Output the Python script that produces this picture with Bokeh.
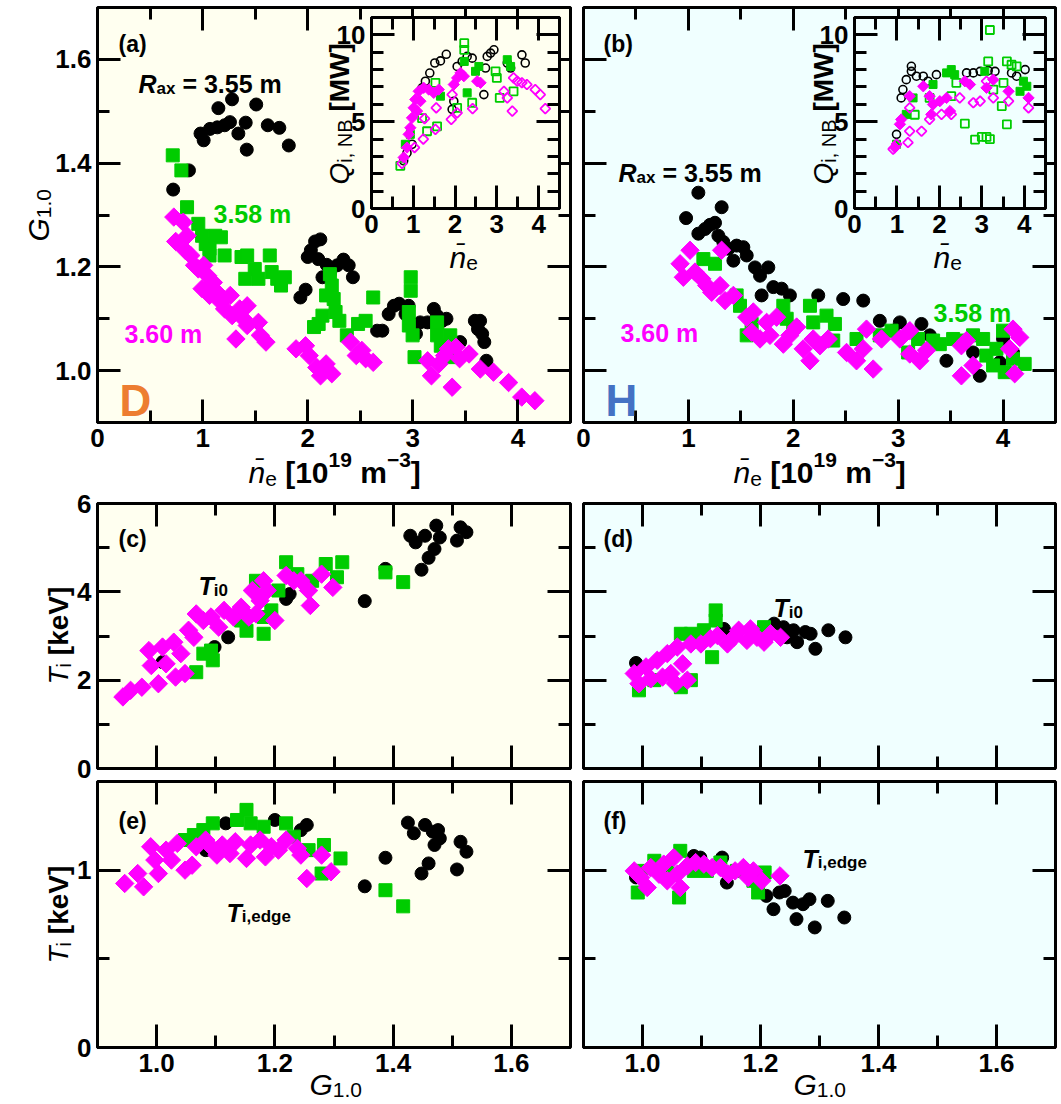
import math
from bokeh.plotting import figure
from bokeh.layouts import column, row
from bokeh.models import Range1d, LinearAxis, SingleIntervalTicker, Label, PrintfTickFormatter
from bokeh.embed import file_html
from bokeh.resources import INLINE

FONT = "Liberation Sans"
BLACK = "#000000"
GREEN = "#00CC00"
MAGENTA = "#FF00FF"
BG_D = "#FFFFF0"
BG_H = "#F0FFFF"

# ---------------- data (x, y) ----------------
# (a) D plasma: G_1.0 vs n_e
A_BLACK = [(0.72,1.349),(0.87,1.386),(0.98,1.457),(1.01,1.444),(1.07,1.466),(1.14,1.469),(1.15,1.506),
           (1.21,1.473),(1.26,1.479),(1.28,1.523),(1.34,1.457),(1.41,1.478),(1.42,1.426),(1.51,1.513),
           (1.62,1.473),(1.73,1.468),(1.82,1.434),
           (1.93,1.141),(1.98,1.156),(2.0,1.219),(2.03,1.232),(2.07,1.249),(2.12,1.253),(2.10,1.215),
           (2.18,1.204),(2.21,1.188),(2.28,1.203),(2.34,1.214),(2.39,1.203),(2.43,1.18),(2.14,1.18),
           (2.66,1.077),(2.71,1.077),(2.77,1.109),(2.82,1.125),(2.87,1.129),(2.93,1.109),(2.96,1.125),
           (3.03,1.071),(3.07,1.093),(3.14,1.093),(3.20,1.119),(3.23,1.106),(3.28,1.096),(3.32,1.10),
           (3.59,1.096),(3.64,1.096),(3.62,1.08),(3.66,1.071),(3.68,1.055),(3.70,1.019),(3.45,1.055)]
A_GREEN = [(0.716,1.415),(0.798,1.386),(0.852,1.315),(0.959,1.283),(0.995,1.26),(1.03,1.244),(1.066,1.235),
           (1.12,1.26),(1.174,1.257),(1.209,1.222),(1.066,1.222),(1.37,1.219),(1.424,1.222),(1.406,1.177),
           (1.496,1.196),(1.531,1.177),(1.639,1.222),(1.657,1.19),(1.71,1.177),(1.782,1.18),(1.746,1.164),
           (2.211,1.186),(2.229,1.164),(2.247,1.138),(2.175,1.145),(2.265,1.113),(2.14,1.106),(2.104,1.09),
           (2.301,1.096),(2.372,1.068),(2.479,1.09),(2.551,1.096),(2.623,1.141),(2.98,1.18),(2.98,1.154),
           (2.962,1.113),(2.962,1.087),(2.998,1.068),(3.016,1.026),(3.231,1.093),(3.231,1.068),
           (3.266,1.048),(3.356,1.068),(3.374,1.026),(2.06,1.084)]
A_MAGENTA = [(0.726,1.296),(0.744,1.249),(0.816,1.286),(0.852,1.26),(0.834,1.232),(0.887,1.222),(0.923,1.203),
             (0.959,1.196),(1.01,1.203),(0.995,1.158),(1.048,1.183),(1.102,1.17),(1.066,1.145),(1.138,1.151),
             (1.174,1.132),(1.209,1.119),(1.263,1.145),(1.281,1.106),(1.353,1.119),(1.388,1.10),(1.424,1.125),
             (1.424,1.087),(1.317,1.061),(1.531,1.093),(1.549,1.068),(1.603,1.055),(1.889,1.042),(1.979,1.048),
             (2.014,1.029),(2.086,1.006),(2.122,0.99),(2.175,1.013),(2.229,0.994),(2.408,1.055),(2.462,1.029),
             (2.515,1.039),(2.551,1.023),(2.623,1.016),(3.141,1.019),(3.177,0.99),(3.249,1.013),(3.302,1.029),
             (3.374,0.968),(3.41,1.045),(3.445,1.023),(3.535,1.032),(3.642,1.003),(3.767,0.997),(3.911,0.977),
             (4.036,0.949),(4.161,0.942),(3.338,1.042)]

# (a) inset: Q_i,NB vs n_e
IA_BLACK_OPEN = [(1.395,7.80),(1.515,8.38),(1.65,8.5),(1.79,8.88),(1.29,7.33),(1.21,6.95),(2.05,8.18),
                 (2.17,8.47),(2.29,8.76),(2.41,8.66),(2.73,8.09),(2.77,8.76),(2.85,8.95),(2.93,9.14),
                 (2.69,6.56),(1.97,6.18),(1.93,5.71),(3.25,8.38),(3.33,8.09),(3.60,8.85),(3.68,8.38),
                 (0.77,2.75),(0.97,3.70),(0.85,3.2)]
IA_GREEN_OPEN = [(2.22,9.52),(2.22,9.14),(1.53,7.24),(1.21,5.2),(1.33,4.45),(1.57,4.73),(2.05,5.8),
                 (2.41,6.09),(3.07,6.37),(3.0,7.52),(2.97,7.9),(3.4,6.75),(0.69,2.46)]
IA_GREEN_FILL = [(2.22,8.47),(2.57,8.18),(2.49,7.9),(3.25,8.57),(3.33,8.18),(2.29,6.66),(1.65,6.47),
                 (0.81,3.7),(0.93,4.27)]
IA_MAGENTA_FILL = [(0.77,2.94),(0.85,3.51),(0.89,4.27),(0.93,4.65),(0.97,5.22),(1.01,5.8),(1.05,6.28),
                   (1.13,6.75),(1.25,6.95),(1.37,6.85),(1.49,6.66),(1.61,6.85),(1.17,6.18),(1.09,5.61),
                   (1.97,7.14),(2.05,7.52),(2.13,7.81),(2.21,7.62),(2.53,7.33),(2.61,7.24)]
IA_MAGENTA_OPEN = [(0.73,2.6),(1.03,3.51),(1.24,4.0),(1.53,4.56),(1.27,5.18),(1.55,5.8),(1.91,5.13),
                   (2.05,5.51),(2.42,5.75),(1.93,6.56),(3.17,6.75),(3.37,5.61),(3.40,7.52),(3.49,7.33),
                   (3.60,7.24),(3.72,7.14),(3.92,6.85),(4.04,6.56),(4.16,5.75),(3.25,6.37)]

# (b) H plasma: G_1.0 vs n_e
B_BLACK = [(0.978,1.294),(1.095,1.343),(1.095,1.264),(1.159,1.273),(1.206,1.281),(1.254,1.285),(1.317,1.315),
           (1.286,1.26),(1.333,1.248),(1.381,1.235),(1.46,1.241),(1.524,1.238),(1.556,1.222),(1.429,1.212),
           (1.635,1.199),(1.683,1.183),(1.762,1.199),(1.81,1.161),(1.889,1.158),(1.968,1.145),(1.698,1.145),
           (2.238,1.145),(2.476,1.138),(2.667,1.135),(2.825,1.096),(3.016,1.093),(3.222,1.09),(3.302,1.068),
           (3.46,1.019),(3.778,0.99),(3.714,1.035),(4.0,1.061),(4.095,1.035),(3.968,1.016),(2.952,1.077)]
B_GREEN = [(1.143,1.215),(1.254,1.206),(1.46,1.145),(1.492,1.125),(1.556,1.068),(1.603,1.09),(1.905,1.125),
           (1.937,1.10),(2.0,1.084),(2.159,1.125),(2.19,1.093),(2.317,1.106),(2.397,1.09),(2.381,1.058),
           (2.603,1.061),(2.825,1.068),(2.937,1.077),(3.095,1.035),(3.19,1.061),(3.333,1.058),(3.397,1.051),
           (3.524,1.061),(3.619,1.058),(3.714,1.068),(3.81,1.061),(3.841,1.029),(3.905,1.01),(4.0,1.077),
           (4.016,0.997),(4.206,1.013),(4.095,1.023),(3.937,1.042)]
B_MAGENTA = [(0.921,1.206),(1.016,1.232),(0.952,1.18),(1.063,1.19),(1.127,1.177),(1.175,1.164),(1.222,1.151),
             (1.302,1.164),(1.317,1.232),(1.349,1.135),(1.429,1.145),(1.556,1.103),(1.619,1.113),(1.603,1.074),
             (1.683,1.061),(1.746,1.093),(1.778,1.068),(1.841,1.103),(1.905,1.051),(1.968,1.068),(2.032,1.084),
             (2.095,1.042),(2.159,1.019),(2.19,1.061),(2.254,1.048),(2.333,1.061),(2.508,1.035),(2.603,1.019),
             (2.698,1.08),(2.667,1.042),(2.762,1.003),(2.841,1.061),(3.016,1.061),(3.111,1.077),(3.111,1.032),
             (3.206,1.019),(3.27,1.039),(3.603,1.048),(3.651,1.058),(3.603,0.99),(3.714,1.01),(4.095,1.08),
             (4.159,1.064),(4.063,1.042),(4.111,0.994)]

# (b) inset
IB_BLACK_OPEN = [(1.34,8.19),(1.34,7.9),(1.22,7.42),(1.14,6.85),(1.10,6.37),(1.46,7.62),(1.62,7.62),
                 (1.73,7.33),(1.93,7.71),(2.64,7.81),(2.80,7.81),(2.96,7.9),(3.15,7.94),(3.31,7.9),
                 (3.70,7.81),(3.82,7.62),(4.02,8.0),(0.99,4.27)]
IB_GREEN_OPEN = [(3.19,10.28),(3.15,8.47),(3.59,8.47),(3.70,8.28),(3.82,8.19),(3.51,7.24),(3.27,6.85),
                 (3.47,5.9),(3.59,4.85),(2.60,4.89),(2.84,3.97),(3.0,4.12),(3.11,4.12),(3.19,4.0),
                 (1.42,5.4),(1.77,6.37),(2.28,6.47),(2.40,7.24)]
IB_GREEN_FILL = [(2.17,7.81),(2.28,8.0),(2.36,7.71),(3.07,7.9),(3.98,7.33),(4.06,7.04),(3.90,6.75),
                 (1.38,6.37),(1.22,5.42),(0.99,3.7),(1.85,7.14)]
IB_MAGENTA_FILL = [(0.95,3.51),(1.07,4.85),(1.10,5.13),(1.30,6.47),(1.62,7.04),(1.77,6.47),(1.85,5.99),
                   (2.01,6.18),(2.17,6.37),(2.25,5.61),(2.60,7.33),(2.72,7.14),(3.11,6.95),(3.27,7.42),
                   (3.63,6.75),(4.10,6.37),(1.81,5.42)]
IB_MAGENTA_OPEN = [(0.91,3.42),(0.99,3.7),(1.26,3.8),(1.30,4.45),(1.58,4.45),(1.30,5.8),(1.77,5.13),
                   (2.05,5.42),(2.28,5.42),(2.48,6.37),(2.80,6.09),(2.96,6.18),(3.27,6.37),(3.63,6.18),
                   (4.10,5.8),(3.11,7.33)]

# (c) D: T_i0 vs G_1.0
C_BLACK = [(1.352,3.79),(1.387,4.52),(1.429,5.27),(1.438,5.12),(1.448,4.5),(1.46,4.77),(1.47,4.97),
           (1.454,5.27),(1.473,5.5),(1.479,5.23),(1.508,5.16),(1.514,5.46),(1.524,5.35),(1.121,2.97),
           (1.219,3.84),(1.225,3.95),(1.098,2.75),(1.01,2.41)]
C_GREEN = [(1.387,4.44),(1.417,4.22),(1.314,4.67),(1.286,4.63),(1.305,4.33),(1.219,4.67),(1.238,4.4),
           (1.263,4.25),(1.168,4.25),(1.181,3.05),(1.152,3.12),(1.181,3.43),(1.143,3.35),(1.095,2.45),
           (1.092,2.67),(1.067,2.18),(1.079,2.6),(1.194,3.58),(1.206,4.03)]
C_MAGENTA = [(0.943,1.62),(0.956,1.77),(0.975,1.84),(0.987,2.67),(0.991,2.33),(1.003,1.92),(1.01,2.75),
             (1.016,2.37),(1.029,2.86),(1.032,2.07),(1.041,2.6),(1.048,2.15),(1.054,3.13),(1.067,3.5),
             (1.063,2.97),(1.079,3.35),(1.092,3.43),(1.105,3.2),(1.114,3.58),(1.13,3.43),(1.143,3.65),
             (1.156,3.43),(1.168,3.5),(1.175,3.8),(1.181,4.25),(1.187,4.03),(1.20,3.35),(1.219,4.37),
             (1.232,4.25),(1.244,4.25),(1.257,4.03),(1.26,3.69),(1.279,4.4),(1.298,4.1),(1.162,4.03)]

# (d) H: T_i0 vs G_1.0
D_BLACK = [(0.989,2.39),(1.223,3.28),(1.239,3.2),(1.256,3.13),(1.262,2.86),(1.276,3.09),(1.285,3.05),
           (1.293,2.71),(1.315,3.13),(1.344,2.97),(1.245,2.97),(1.138,3.16)]
D_GREEN = [(0.994,1.77),(1.124,3.58),(1.124,3.35),(1.118,2.52),(1.065,3.05),(1.082,3.05),(1.104,3.13),
           (1.206,3.2),(1.065,1.84),(1.02,2.0),(1.082,2.0)]
D_MAGENTA = [(0.986,2.15),(0.994,1.92),(1.006,2.3),(1.014,2.03),(1.025,2.45),(1.034,2.07),(1.042,2.6),
             (1.048,2.15),(1.056,1.92),(1.059,2.75),(1.068,2.37),(1.076,2.0),(1.082,2.82),(1.099,2.82),
             (1.115,2.94),(1.127,3.01),(1.144,2.82),(1.155,2.97),(1.163,3.13),(1.177,2.9),(1.183,3.16),
             (1.194,2.97),(1.206,2.86),(1.217,3.05),(1.234,2.97)]

# (e) D: T_i,edge vs G_1.0
E_BLACK = [(1.352,0.909),(1.387,1.07),(1.425,1.268),(1.435,1.208),(1.454,1.255),(1.467,1.217),(1.476,1.226),
           (1.479,1.179),(1.47,1.142),(1.46,1.038),(1.448,0.981),(1.508,1.004),(1.514,1.16),(1.524,1.104),
           (1.254,1.255),(1.244,1.226),(1.20,1.283),(1.117,1.264),(1.083,1.113)]
E_GREEN = [(1.387,0.887),(1.417,0.796),(1.152,1.34),(1.136,1.283),(1.159,1.264),(1.181,1.245),(1.219,1.264),
           (1.095,1.264),(1.079,1.226),(1.063,1.198),(1.048,1.17),(1.283,1.142),(1.311,1.066),(1.279,0.981),
           (1.232,1.189),(1.257,1.113)]
E_MAGENTA = [(0.946,0.925),(0.968,0.981),(0.978,0.906),(0.99,1.132),(0.997,1.057),(1.003,0.981),(1.016,1.113),
             (1.025,1.057),(1.035,1.151),(1.048,1.0),(1.06,1.028),(1.067,1.132),(1.083,1.17),(1.092,1.132),
             (1.102,1.085),(1.111,1.142),(1.124,1.094),(1.133,1.16),(1.152,1.066),(1.159,1.142),(1.175,1.17),
             (1.184,1.075),(1.194,1.132),(1.206,1.113),(1.219,1.17),(1.238,1.123),(1.244,1.085),(1.254,0.953),
             (1.279,1.085),(1.295,0.991)]

# (f) H: T_i,edge vs G_1.0
F_BLACK = [(0.989,0.959),(1.087,1.08),(1.098,1.071),(1.135,1.071),(1.143,0.93),(1.21,0.855),(1.232,0.874),
           (1.222,0.78),(1.241,0.883),(1.255,0.817),(1.261,0.724),(1.272,0.808),(1.283,0.836),(1.292,0.677),
           (1.314,0.827),(1.342,0.733)]
F_GREEN = [(0.992,0.874),(0.997,0.996),(1.02,1.053),(1.042,1.015),(1.062,0.846),(1.064,1.109),(1.087,0.996),
           (1.109,0.996),(1.132,1.043),(1.16,0.996),(1.188,0.94),(1.196,0.874),(1.207,0.987)]
F_MAGENTA = [(0.986,0.996),(0.997,0.959),(1.008,0.902),(1.014,1.015),(1.028,0.977),(1.036,1.034),(1.042,0.94),
             (1.053,1.071),(1.059,0.977),(1.064,0.902),(1.076,1.024),(1.09,1.043),(1.104,1.034),(1.118,1.015),
             (1.132,1.015),(1.146,0.977),(1.157,0.996),(1.171,1.015),(1.179,0.959),(1.188,0.996),(1.202,0.94),
             (1.233,0.968)]

# ---------------- geometry ----------------
PAGE_W, PAGE_H = 1059, 1102
RANGES = {
    "a": ((0, 4.5), (0.9, 1.7), 473, 415),
    "b": ((0, 4.5), (0.9, 1.7), 472, 415),
    "c": ((0.9, 1.7), (0, 6), 473, 265),
    "d": ((0.9, 1.7), (0, 6), 472, 265),
    "e": ((0.9, 1.7), (0, 1.5), 473, 266),
    "f": ((0.9, 1.7), (0, 1.5), 472, 266),
    "ia": ((0, 4.5), (0, 11), 188, 191),
    "ib": ((0, 4.5), (0, 11), 191, 191),
}

W_REG = {' ':278, ',':278, '.':278, '[':278, ']':278, '=':584, '\u2212':584, '(':333, ')':333,
         'a':556,'b':556,'c':500,'d':556,'e':556,'f':278,'g':556,'i':222,'k':500,'m':833,'n':556,'x':500,
         'B':667,'G':778,'H':722,'M':833,'N':722,'Q':778,'R':722,'T':611,'V':667,'W':944,'D':722}
W_BOLD = {' ':278, ',':278, '.':278, '[':333, ']':333, '=':584, '\u2212':584, '(':333, ')':333,
          'a':556,'b':611,'c':556,'d':611,'e':556,'f':333,'g':611,'i':278,'k':556,'m':889,'n':611,'x':556,
          'B':722,'G':778,'H':722,'M':833,'N':722,'Q':778,'R':722,'T':611,'V':667,'W':944,'D':722}


def text_width(s, size, bold):
    tbl = W_BOLD if bold else W_REG
    tot = 0
    for ch in s:
        if 0x300 <= ord(ch) <= 0x36F:
            continue
        tot += tbl.get(ch, 556)
    return tot * size / 1000.0


def style_axis(ax, ticker, show, fmt, major=23, minor=12):
    ax.ticker = ticker
    ax.axis_line_color = None
    ax.major_tick_in = major
    ax.major_tick_out = 0
    ax.minor_tick_in = minor
    ax.minor_tick_out = 0
    ax.major_tick_line_width = 3
    ax.minor_tick_line_width = 3
    ax.major_tick_line_color = "black"
    ax.minor_tick_line_color = "black"
    ax.formatter = PrintfTickFormatter(format=fmt)
    ax.major_label_text_font = FONT
    ax.major_label_text_font_style = "bold"
    if show:
        ax.major_label_text_color = "black"
        ax.major_label_text_font_size = "26px"
        ax.major_label_standoff = 6
    else:
        ax.major_label_text_color = None
        ax.major_label_text_alpha = 0
        ax.major_label_text_font_size = "1px"
        ax.major_label_standoff = 0


def make_fig(key, borders, bg, xt, yt, show_x, show_y, xfmt, yfmt, transparent=False):
    xr, yr, fw, fh = RANGES[key]
    l, r, t, b = borders
    p = figure(x_range=Range1d(*xr), y_range=Range1d(*yr),
               frame_width=fw, frame_height=fh,
               min_border_left=l, min_border_right=r, min_border_top=t, min_border_bottom=b,
               output_backend="svg", toolbar_location=None, tools="",
               background_fill_color=bg)
    p.grid.visible = False
    p.outline_line_color = "black"
    p.outline_line_width = 3
    if transparent:
        p.border_fill_color = None
        p.border_fill_alpha = 0
    p.add_layout(LinearAxis(), "above")
    p.add_layout(LinearAxis(), "right")
    style_axis(p.below[0], xt, show_x, xfmt)
    style_axis(p.left[0], yt, show_y, yfmt)
    style_axis(p.above[0], xt, False, xfmt)
    style_axis(p.right[0], yt, False, yfmt)
    return p


def xs(pts):
    return [q[0] for q in pts]


def ys(pts):
    return [q[1] for q in pts]


def filled(p, pts, kind, color, size=13):
    if kind == "diamond":
        p.scatter(xs(pts), ys(pts), marker="square", angle=math.pi / 4, size=size,
                  fill_color=color, line_color=color, line_width=1)
    else:
        p.scatter(xs(pts), ys(pts), marker=kind, size=size, fill_color=color,
                  line_color=color, line_width=1)


def hollow(p, pts, kind, color, size=8, lw=1.8):
    if kind == "diamond":
        p.scatter(xs(pts), ys(pts), marker="square", angle=math.pi / 4, size=size,
                  fill_color=None, line_color=color, line_width=lw)
    else:
        p.scatter(xs(pts), ys(pts), marker=kind, size=size, fill_color=None,
                  line_color=color, line_width=lw)


def tk(interval, minor):
    return SingleIntervalTicker(interval=interval, num_minor_ticks=minor)


# ---------------- main panels ----------------
# left column canvases: x 0..573 ; right column canvases: x 573..1059
fig_a = make_fig("a", (97, 3, 7, 58), BG_D, tk(1, 2), tk(0.2, 2), True, True, "%d", "%.1f")
fig_b = make_fig("b", (10, 4, 7, 58), BG_H, tk(1, 2), tk(0.2, 2), True, False, "%d", "%.1f")
fig_c = make_fig("c", (97, 3, 23, 16), BG_D, tk(0.2, 2), tk(2, 2), False, True, "%.1f", "%d")
fig_d = make_fig("d", (10, 4, 23, 16), BG_H, tk(0.2, 2), tk(2, 2), False, False, "%.1f", "%d")
fig_e = make_fig("e", (97, 3, 1, 55), BG_D, tk(0.2, 2), tk(1, 2), True, True, "%.1f", "%d", transparent=True)
fig_f = make_fig("f", (10, 4, 1, 55), BG_H, tk(0.2, 2), tk(1, 2), True, False, "%.1f", "%d", transparent=True)

for p, bl, gr, mg in [(fig_a, A_BLACK, A_GREEN, A_MAGENTA), (fig_b, B_BLACK, B_GREEN, B_MAGENTA),
                      (fig_c, C_BLACK, C_GREEN, C_MAGENTA), (fig_d, D_BLACK, D_GREEN, D_MAGENTA),
                      (fig_e, E_BLACK, E_GREEN, E_MAGENTA), (fig_f, F_BLACK, F_GREEN, F_MAGENTA)]:
    filled(p, bl, "circle", BLACK, 13)
    filled(p, gr, "square", GREEN, 13)
    filled(p, mg, "diamond", MAGENTA, 13)

# ---------------- insets (canvas starts at its column's left edge) ----------------
ins_a = make_fig("ia", (371, 4, 4, 60), BG_D, tk(1, 2), tk(5, 5), True, True, "%d", "%d", transparent=True)
ins_b = make_fig("ib", (281, 4, 4, 60), BG_H, tk(1, 2), tk(5, 5), True, True, "%d", "%d", transparent=True)
for p, bo, go, gf, mf, mo in [(ins_a, IA_BLACK_OPEN, IA_GREEN_OPEN, IA_GREEN_FILL, IA_MAGENTA_FILL, IA_MAGENTA_OPEN),
                              (ins_b, IB_BLACK_OPEN, IB_GREEN_OPEN, IB_GREEN_FILL, IB_MAGENTA_FILL, IB_MAGENTA_OPEN)]:
    hollow(p, bo, "circle", BLACK, 8, 1.6)
    hollow(p, go, "square", GREEN, 8, 1.8)
    filled(p, gf, "square", GREEN, 8)
    filled(p, mf, "diamond", MAGENTA, 8)
    hollow(p, mo, "diamond", MAGENTA, 7, 1.8)

# ---------------- text overlay (page pixel coordinates) ----------------
ov = figure(x_range=Range1d(0, PAGE_W), y_range=Range1d(PAGE_H, 0),
            frame_width=PAGE_W, frame_height=PAGE_H,
            min_border_left=0, min_border_right=0, min_border_top=0, min_border_bottom=0,
            x_axis_location=None, y_axis_location=None,
            output_backend="svg", toolbar_location=None, tools="")
ov.grid.visible = False
ov.outline_line_color = None
ov.background_fill_color = None
ov.background_fill_alpha = 0
ov.border_fill_color = None
ov.border_fill_alpha = 0


def rich(px, py, pieces, color="black", rotated=False):
    adv = 0.0
    for txt, size, style, shift in pieces:
        bold = "bold" in style
        lead = len(txt) - len(txt.lstrip(" "))
        adv += text_width(" " * lead, size, bold)
        body = txt.lstrip(" ")
        if rotated:
            qx, qy = px + shift, py - adv
        else:
            qx, qy = px + adv, py + shift
        ov.add_layout(Label(x=qx, y=qy, text=body, text_font=FONT, text_font_size=f"{size}px",
                            text_font_style=style, text_color=color, text_align="left",
                            text_baseline="alphabetic", angle=(math.pi / 2 if rotated else 0)))
        adv += text_width(body, size, bold)


G_TITLE = [("G", 30, "italic", 0), ("1.0", 21, "normal", 5)]
NE_TITLE = [("n\u0304", 30, "italic", 0), ("e", 21, "normal", 6), (" [10", 30, "bold", 0),
            ("19", 21, "bold", -13), (" m", 30, "bold", 0), ("\u22123", 21, "bold", -13), ("]", 30, "bold", 0)]
TI_TITLE = [("T", 28, "italic", 0), ("i", 20, "normal", 5), (" [keV]", 28, "bold", 0)]
Q_TITLE = [("Q", 28, "italic", 0), ("i, NB", 20, "normal", 5), (" [MW]", 28, "bold", 0)]
NE_SHORT = [("n\u0304", 30, "italic", 0), ("e", 21, "normal", 5)]
RAX = [("R", 25, "bold italic", 0), ("ax", 17, "bold", 5), (" = 3.55 m", 25, "bold", 0)]
TI0 = [("T", 25, "bold italic", 0), ("i0", 17, "bold", 5)]
TIE = [("T", 25, "bold italic", 0), ("i,edge", 17, "bold", 4)]

# (a)
rich(118, 43, [("(a)", 23, "bold", 0)])
rich(138, 83, RAX)
rich(213, 213, [("3.58 m", 25, "bold", 0)], color=GREEN)
rich(124, 333, [("3.60 m", 25, "bold", 0)], color=MAGENTA)
rich(119, 400, [("D", 44, "bold", 0)], color="#ED7D31")
rich(38, 241, G_TITLE, rotated=True)
rich(248, 472, NE_TITLE)
# (b)
rich(603, 43, [("(b)", 23, "bold", 0)])
rich(618, 172, RAX)
rich(933, 312, [("3.58 m", 25, "bold", 0)], color=GREEN)
rich(620, 332, [("3.60 m", 25, "bold", 0)], color=MAGENTA)
rich(605, 400, [("H", 44, "bold", 0)], color="#4472C4")
rich(733, 472, NE_TITLE)
# insets
rich(339, 184, Q_TITLE, rotated=True)
rich(449, 257, NE_SHORT)
rich(823, 184, Q_TITLE, rotated=True)
rich(933, 257, NE_SHORT)
# (c)
rich(118, 538, [("(c)", 23, "bold", 0)])
rich(198, 585, TI0)
rich(58, 684, TI_TITLE, rotated=True)
# (d)
rich(603, 538, [("(d)", 23, "bold", 0)])
rich(773, 607, TI0)
# (e)
rich(118, 820, [("(e)", 23, "bold", 0)])
rich(226, 912, TIE)
rich(58, 963, TI_TITLE, rotated=True)
rich(309, 1084, G_TITLE)
# (f)
rich(603, 820, [("(f)", 23, "bold", 0)])
rich(802, 858, TIE)
rich(793, 1084, G_TITLE)

# ---------------- layout ----------------
# insets are wrapped in their own rows so that the column does not align their frames
wrap_a = row(ins_a)
wrap_b = row(ins_b)
wrap_a.margin = (-467, 0, 212, 0)
wrap_b.margin = (-467, 0, 212, 0)
col_a = column(fig_a, wrap_a)
col_b = column(fig_b, wrap_b)
row1 = row(col_a, col_b)
row2 = row(fig_c, fig_d)            # y 480..784
row3 = row(fig_e, fig_f)            # overlaps row2 by 4 px (transparent border)
row3.margin = (-4, 0, 0, 0)
main = column(row1, row2, row3)
ov.margin = (-PAGE_H, 0, 0, 0)
layout = column(main, ov)

open("out.html", "w").write(file_html(layout, INLINE))
